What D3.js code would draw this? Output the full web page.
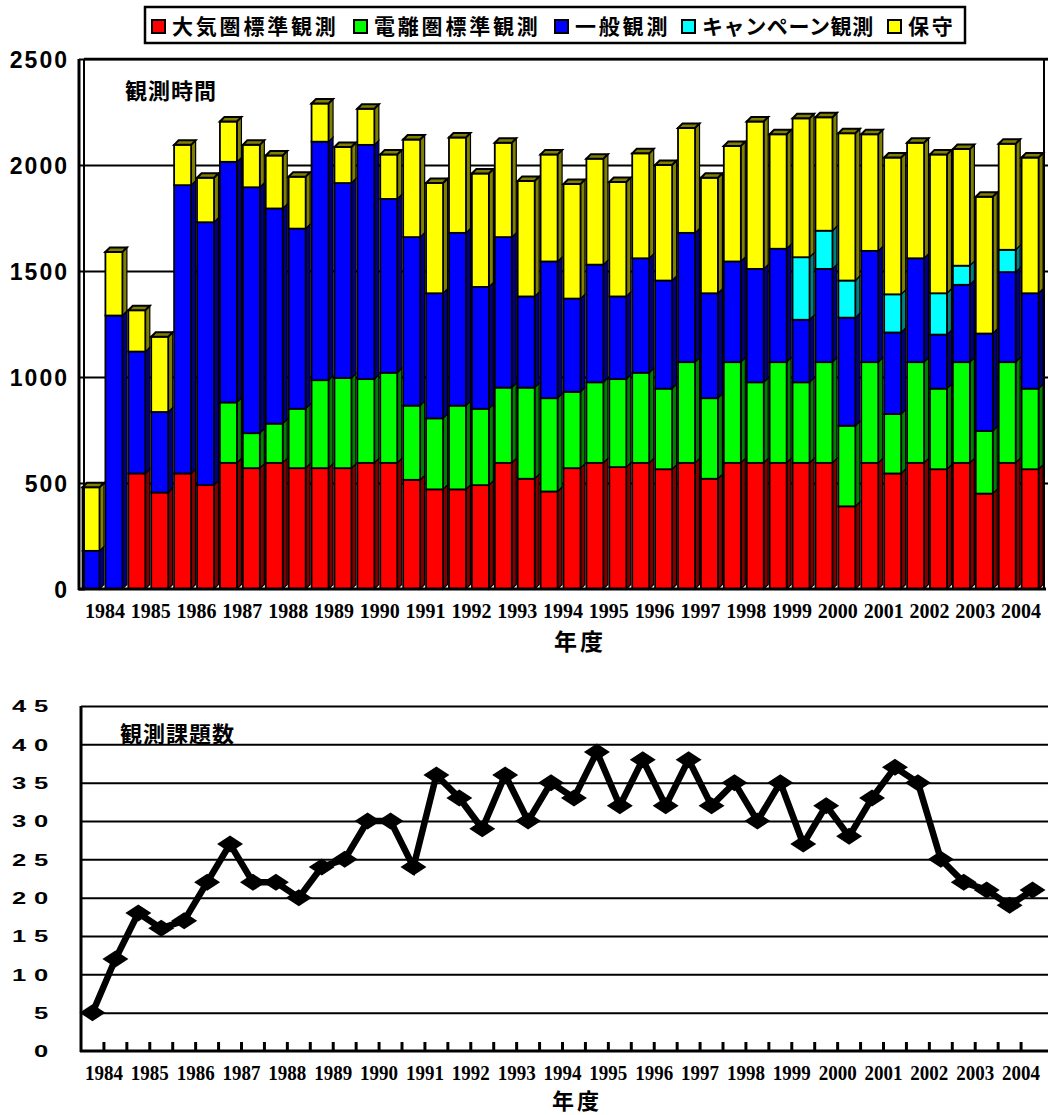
<!DOCTYPE html>
<html>
<head>
<meta charset="utf-8">
<script src="https://cdn.jsdelivr.net/npm/d3@7"></script>
<style>
  body { margin: 0; background: #fff; }
  text { fill: #000; }
</style>
</head>
<body>
<div id="chart"></div>
<script>
// data: two bars (first half / second half) per fiscal year
var years = ["1984", "1985", "1986", "1987", "1988", "1989", "1990", "1991", "1992", "1993", "1994",
  "1995", "1996", "1997", "1998", "1999", "2000", "2001", "2002", "2003", "2004"];

// 大気圏標準観測
var atmosStd = [0, 0, 545, 455, 545, 490, 595, 570, 595, 570, 570, 570, 595, 595, 515, 470, 470, 490, 595, 520, 460,
  570, 595, 575, 595, 565, 595, 520, 595, 595, 595, 595, 595, 390, 595, 545, 595, 565, 595, 450, 595, 565];
// 電離圏標準観測
var ionoStd = [0, 0, 0, 0, 0, 0, 285, 165, 185, 280, 415, 425, 395, 425, 350, 335, 395, 360, 355, 430, 440,
  360, 380, 415, 425, 380, 475, 380, 475, 380, 475, 380, 475, 380, 475, 280, 475, 380, 475, 295, 475, 380];
// 一般観測
var general = [180, 1290, 575, 380, 1360, 1240, 1135, 1160, 1015, 850, 1125, 920, 1105, 820, 795, 590, 815, 575, 710, 430, 645,
  440, 555, 390, 540, 510, 610, 495, 475, 535, 535, 295, 440, 510, 525, 385, 490, 255, 365, 460, 425, 450];
// キャンペーン観測
var campaign = [0, 0, 0, 0, 0, 0, 0, 0, 0, 0, 0, 0, 0, 0, 0, 0, 0, 0, 0, 0, 0,
  0, 0, 0, 0, 0, 0, 0, 0, 0, 0, 295, 180, 175, 0, 180, 0, 195, 90, 0, 105, 0];
// 保守
var maintenance = [300, 300, 195, 355, 190, 210, 190, 200, 250, 245, 180, 170, 170, 210, 460, 520, 450, 535, 445, 545, 505,
  540, 500, 540, 495, 545, 495, 545, 545, 695, 540, 655, 535, 695, 550, 645, 545, 655, 550, 645, 500, 640];

// 観測課題数
var projects = [5, 12, 18, 16, 17, 22, 27, 22, 22, 20, 24, 25, 30, 30, 24, 36, 33, 29, 36, 30, 35,
  33, 39, 32, 38, 32, 38, 32, 35, 30, 35, 27, 32, 28, 33, 37, 35, 25, 22, 21, 19, 21];

var seriesNames = ["大気圏標準観測", "電離圏標準観測", "一般観測", "キャンペーン観測", "保守"];
var barTicks = [0, 500, 1000, 1500, 2000, 2500];
var lineTicks = [0, 5, 10, 15, 20, 25, 30, 35, 40, 45];

var colors = ["#ff0000", "#00ff00", "#0000ff", "#00ffff", "#ffff00"];
var darkColors = ["#800000", "#008000", "#000080", "#008080", "#808000"];

var jpFont = "'Noto Sans CJK JP', sans-serif";
var numFont = "'Liberation Sans', Arial, sans-serif";
var yearFont = "'Liberation Serif', 'Times New Roman', serif";

var svg = d3.select("#chart")
  .append("svg")
  .attr("width", 1048)
  .attr("height", 1115);

svg.append("rect").attr("width", 1048).attr("height", 1115).attr("fill", "#fff");

// build one row per bar for d3.stack
var rows = atmosStd.map(function(d, i) {
  return { i: i, s0: atmosStd[i], s1: ionoStd[i], s2: general[i], s3: campaign[i], s4: maintenance[i] };
});
var keys = ["s0", "s1", "s2", "s3", "s4"];
var stacked = d3.stack().keys(keys)(rows);

// ============ top chart: 観測時間 ============
var upper = { left: 82, right: 1044, y0: 589, y1: 59 };

var xBar = d3.scaleBand()
  .domain(d3.range(atmosStd.length))
  .range([upper.left, upper.right]);
var xYearTop = d3.scaleBand()
  .domain(years)
  .range([upper.left, upper.right]);
var yBar = d3.scaleLinear()
  .domain([0, 2500])
  .range([upper.y0, upper.y1]);

var topG = svg.append("g");

// gridlines
topG.append("g")
  .attr("transform", `translate(${upper.left + 2}, 0)`)
  .call(d3.axisLeft(yBar).tickValues(barTicks.slice(1)).tickSize(-(upper.right - upper.left + 2)).tickFormat(""))
  .call(g => g.select(".domain").remove())
  .call(g => g.selectAll("line").attr("stroke", "#000").attr("stroke-width", 2));

// right edge of the back wall
topG.append("line")
  .attr("x1", upper.right).attr("x2", upper.right)
  .attr("y1", yBar(2500)).attr("y2", upper.y0)
  .attr("stroke", "#000").attr("stroke-width", 2);

// 3D bars
var frontW = 17, depth = 4.5;
var barG = topG.append("g");
rows.forEach(function(r, i) {
  var x = xBar(i) + 0.5;
  var topIdx = -1;
  keys.forEach(function(k, j) { if (r[k] > 0) topIdx = j; });
  stacked.forEach(function(layer, j) {
    var seg = layer[i];
    if (seg[1] - seg[0] <= 0) return;
    var yTop = yBar(seg[1]), yBot = yBar(seg[0]);
    // side face
    barG.append("path")
      .attr("d", `M${x + frontW},${yBot} L${x + frontW + depth},${yBot - depth} L${x + frontW + depth},${yTop - depth} L${x + frontW},${yTop} Z`)
      .attr("fill", darkColors[j])
      .attr("stroke", "#000")
      .attr("stroke-width", 1.2);
    // front face
    barG.append("rect")
      .attr("x", x)
      .attr("y", yTop)
      .attr("width", frontW)
      .attr("height", yBot - yTop)
      .attr("fill", colors[j])
      .attr("stroke", "#000")
      .attr("stroke-width", 1.8);
    // top face on the last segment
    if (j === topIdx) {
      barG.append("path")
        .attr("d", `M${x},${yTop} L${x + depth},${yTop - depth} L${x + frontW + depth},${yTop - depth} L${x + frontW},${yTop} Z`)
        .attr("fill", darkColors[j])
        .attr("stroke", "#000")
        .attr("stroke-width", 2);
    }
  });
});

// frame top
topG.append("line")
  .attr("x1", upper.left + 2).attr("x2", 1048)
  .attr("y1", yBar(2500)).attr("y2", yBar(2500))
  .attr("stroke", "#000").attr("stroke-width", 2.5);

// double left axis
topG.append("line")
  .attr("x1", upper.left - 3).attr("x2", upper.left - 3)
  .attr("y1", yBar(2500)).attr("y2", upper.y0 + 1)
  .attr("stroke", "#000").attr("stroke-width", 3);
topG.append("line")
  .attr("x1", upper.left + 2).attr("x2", upper.left + 2)
  .attr("y1", yBar(2500)).attr("y2", upper.y0)
  .attr("stroke", "#000").attr("stroke-width", 2);

// floor
topG.append("line")
  .attr("x1", upper.left - 4).attr("x2", 1046)
  .attr("y1", upper.y0).attr("y2", upper.y0)
  .attr("stroke", "#000").attr("stroke-width", 3);

// y axis labels
topG.append("g")
  .attr("transform", `translate(${upper.left - 3}, 0)`)
  .call(d3.axisLeft(yBar).tickValues(barTicks).tickSize(6).tickPadding(4).tickFormat(d3.format("d")))
  .call(g => g.select(".domain").remove())
  .call(g => g.selectAll("line").attr("stroke", "#000").attr("stroke-width", 2).attr("transform", "translate(6,0)"))
  .call(g => g.selectAll("text")
    .attr("font-family", numFont)
    .attr("font-size", 23)
    .attr("font-weight", "bold")
    .attr("letter-spacing", 2)
    .attr("dy", "0.38em")
    .attr("fill", "#000"));

// x axis year labels
topG.append("g")
  .attr("transform", `translate(0, ${upper.y0 + 10})`)
  .call(d3.axisBottom(xYearTop).tickSize(0))
  .call(g => g.select(".domain").remove())
  .call(g => g.selectAll("text")
    .attr("font-family", yearFont)
    .attr("font-size", 20)
    .attr("font-weight", "bold")
    .attr("transform", "scale(1,1.1)")
    .attr("fill", "#000"));

topG.append("text")
  .attr("x", 125).attr("y", 99)
  .attr("font-family", jpFont).attr("font-size", 22).attr("font-weight", "bold")
  .attr("letter-spacing", 1)
  .text("観測時間");

topG.append("text")
  .attr("x", 580).attr("y", 650)
  .attr("text-anchor", "middle")
  .attr("font-family", jpFont).attr("font-size", 23).attr("font-weight", "bold")
  .attr("letter-spacing", 3)
  .text("年度");

// legend
var legend = svg.append("g");
legend.append("rect")
  .attr("x", 145).attr("y", 7).attr("width", 820).attr("height", 36)
  .attr("fill", "#fff").attr("stroke", "#000").attr("stroke-width", 2.5);
var legendX = [152, 354, 555, 682, 888];
seriesNames.forEach(function(name, j) {
  legend.append("rect")
    .attr("x", legendX[j]).attr("y", 20).attr("width", 13).attr("height", 13)
    .attr("fill", colors[j]).attr("stroke", "#000").attr("stroke-width", 2);
  legend.append("text")
    .attr("x", legendX[j] + 20).attr("y", 34)
    .attr("font-family", jpFont).attr("font-size", 21).attr("font-weight", "bold")
    .attr("letter-spacing", j === 3 ? 0.6 : 2.8)
    .text(name);
});

// ============ bottom chart: 観測課題数 ============
var lower = { left: 81, right: 1044, y0: 1051, y1: 706 };

var xPt = d3.scaleBand()
  .domain(d3.range(projects.length))
  .range([lower.left, lower.right]);
var xYearBot = d3.scaleBand()
  .domain(years)
  .range([lower.left, lower.right]);
var yLine = d3.scaleLinear()
  .domain([0, 45])
  .range([lower.y0, lower.y1]);

var botG = svg.append("g");

// gridlines
botG.append("g")
  .attr("transform", `translate(${lower.left}, 0)`)
  .call(d3.axisLeft(yLine).tickValues(lineTicks.slice(1)).tickSize(-(1048 - lower.left)).tickFormat(""))
  .call(g => g.select(".domain").remove())
  .call(g => g.selectAll("line").attr("stroke", "#000").attr("stroke-width", 2));

// x ticks at category boundaries
botG.append("g")
  .attr("transform", `translate(0, ${lower.y0})`)
  .call(d3.axisBottom(xPt).tickValues(d3.range(1, projects.length)).tickSize(-9).tickFormat(""))
  .call(g => g.select(".domain").remove())
  .call(g => g.selectAll(".tick")
    .attr("transform", d => `translate(${xPt(d)},0)`))
  .call(g => g.selectAll("line").attr("stroke", "#000").attr("stroke-width", 3));

// axes lines
botG.append("line")
  .attr("x1", lower.left).attr("x2", lower.left)
  .attr("y1", lower.y1).attr("y2", lower.y0 + 1)
  .attr("stroke", "#000").attr("stroke-width", 3);
botG.append("line")
  .attr("x1", lower.left - 1).attr("x2", 1048)
  .attr("y1", lower.y0).attr("y2", lower.y0)
  .attr("stroke", "#000").attr("stroke-width", 3);

// y labels, wide spaced digits
botG.append("g")
  .attr("transform", `translate(56, 0)`)
  .call(d3.axisLeft(yLine).tickValues(lineTicks).tickSize(0).tickPadding(0))
  .call(g => g.select(".domain").remove())
  .call(g => g.selectAll("text")
    .attr("x", 0)
    .attr("font-family", numFont)
    .attr("font-size", 16.5)
    .attr("font-weight", "bold")
    .attr("letter-spacing", 5)
    .attr("dy", "0.36em")
    .attr("transform", "scale(1.55,1)")
    .attr("fill", "#000"));

// line + diamonds
var line = d3.line()
  .x((d, i) => xPt(i) + xPt.bandwidth() / 2)
  .y(d => yLine(d));

botG.append("path")
  .datum(projects)
  .attr("d", line)
  .attr("fill", "none")
  .attr("stroke", "#000")
  .attr("stroke-width", 6.5)
  .attr("stroke-linejoin", "miter");

botG.selectAll(".pt")
  .data(projects)
  .enter()
  .append("path")
  .attr("class", "pt")
  .attr("d", "M0,-8.5 L13,0 L0,8.5 L-13,0 Z")
  .attr("transform", (d, i) => `translate(${xPt(i) + xPt.bandwidth() / 2}, ${yLine(d)})`)
  .attr("fill", "#000");

// x labels
botG.append("g")
  .attr("transform", `translate(0, ${lower.y0 + 11})`)
  .call(d3.axisBottom(xYearBot).tickSize(0))
  .call(g => g.select(".domain").remove())
  .call(g => g.selectAll("text")
    .attr("font-family", yearFont)
    .attr("font-size", 19)
    .attr("font-weight", "bold")
    .attr("transform", "scale(1,1.1)")
    .attr("fill", "#000"));

botG.append("text")
  .attr("x", 120).attr("y", 742)
  .attr("font-family", jpFont).attr("font-size", 22).attr("font-weight", "bold")
  .attr("letter-spacing", 1)
  .text("観測課題数");

botG.append("text")
  .attr("x", 577).attr("y", 1109)
  .attr("text-anchor", "middle")
  .attr("font-family", jpFont).attr("font-size", 22).attr("font-weight", "bold")
  .attr("letter-spacing", 3)
  .text("年度");
</script>
</body>
</html>
